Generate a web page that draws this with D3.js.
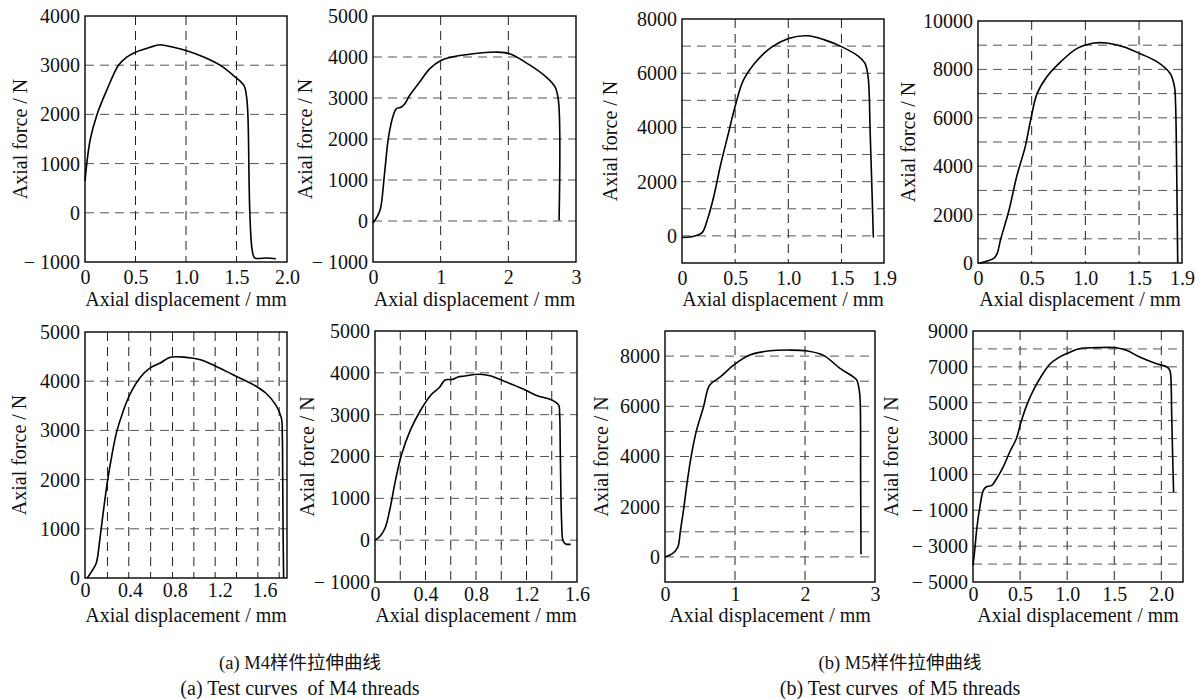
<!DOCTYPE html>
<html><head><meta charset="utf-8">
<script src="https://cdn.jsdelivr.net/npm/d3@7"></script>
<style>
body{margin:0;background:#fff}
svg{display:block}
text{font-family:"Liberation Serif","Times New Roman",serif;fill:#111}
</style>
</head><body>
<svg id="chart" width="1200" height="699"></svg>
<script>
// ---------- DATA ----------
// (a) M4 threads: axial displacement (mm), axial force (N)
const curveM4a = [[0,650],[0.05,1470],[0.116,1980],[0.215,2490],[0.33,2995],[0.41,3160],[0.5,3265],[0.646,3367],[0.745,3415],[0.795,3400],[1.0,3300],[1.175,3165],[1.34,2995],[1.47,2790],[1.573,2588],[1.6,2350],[1.613,1978],[1.632,0],[1.656,-766],[1.68,-915],[1.80,-920],[1.89,-935]];
const curveM4b = [[0,-50],[0.06,100],[0.11,300],[0.17,1150],[0.23,2050],[0.3,2580],[0.345,2740],[0.42,2780],[0.47,2860],[0.54,3060],[0.69,3390],[0.84,3715],[1.01,3920],[1.13,3985],[1.48,4080],[1.82,4120],[2.02,4080],[2.32,3800],[2.56,3510],[2.69,3270],[2.74,2940],[2.75,15]];
const curveM4c = [[0.02,0],[0.06,135],[0.1,300],[0.13,745],[0.16,1290],[0.2,1965],[0.24,2500],[0.28,2950],[0.34,3390],[0.4,3730],[0.49,4070],[0.58,4270],[0.67,4370],[0.76,4485],[0.9,4485],[1.02,4440],[1.17,4300],[1.32,4130],[1.5,3930],[1.61,3760],[1.7,3520],[1.75,3250],[1.758,2910],[1.762,1965],[1.765,950],[1.77,0]];
const curveM4d = [[0,0],[0.04,95],[0.08,290],[0.12,770],[0.16,1400],[0.21,2040],[0.28,2630],[0.36,3100],[0.44,3460],[0.51,3650],[0.555,3830],[0.61,3840],[0.657,3900],[0.7,3920],[0.83,3965],[0.91,3930],[1.04,3780],[1.17,3620],[1.28,3460],[1.40,3350],[1.455,3230],[1.462,3070],[1.468,2040],[1.478,450],[1.49,-20],[1.51,-90],[1.55,-100]];
// (b) M5 threads
const curveM5a = [[0,-60],[0.08,-40],[0.14,20],[0.19,120],[0.24,610],[0.3,1470],[0.36,2570],[0.43,3680],[0.5,4780],[0.58,5760],[0.71,6490],[0.85,6980],[1.01,7290],[1.18,7380],[1.34,7230],[1.5,6980],[1.66,6620],[1.72,6370],[1.75,5880],[1.77,3800],[1.80,-60]];
const curveM5b = [[0,0],[0.02,0],[0.08,70],[0.15,200],[0.18,410],[0.21,960],[0.29,2200],[0.36,3570],[0.44,4810],[0.49,5900],[0.55,7000],[0.64,7690],[0.77,8310],[0.92,8860],[1.08,9090],[1.2,9090],[1.36,8930],[1.51,8650],[1.67,8310],[1.79,7830],[1.83,7280],[1.84,6590],[1.85,3980],[1.86,0]];
const curveM5c = [[0,0],[0.095,107],[0.18,373],[0.22,1040],[0.27,1973],[0.32,3040],[0.38,4107],[0.45,5040],[0.55,5970],[0.637,6840],[0.79,7170],[0.98,7640],[1.21,8040],[1.5,8210],[1.79,8240],[2.02,8210],[2.26,8040],[2.5,7510],[2.69,7170],[2.74,7040],[2.775,6640],[2.788,6240],[2.795,3040],[2.8,107]];
const curveM5d = [[0,-4070],[0.02,-3140],[0.04,-2030],[0.07,-910],[0.11,110],[0.14,300],[0.2,390],[0.25,760],[0.32,1410],[0.39,2250],[0.46,2990],[0.51,3920],[0.57,4850],[0.64,5690],[0.73,6520],[0.82,7170],[0.9,7490],[0.99,7730],[1.13,8010],[1.31,8070],[1.52,8070],[1.63,7920],[1.77,7550],[1.95,7170],[2.06,6990],[2.09,6800],[2.1,6520],[2.11,4290],[2.12,2060],[2.13,20]];

// axis domains
const xDomains = [[0,2],[0,3],[0,1.9],[0,1.9],[0,1.8],[0,1.6],[0,3],[0,2.23]];
const yDomains = [[-1000,4000],[-1000,5000],[-1000,8000],[0,10000],[0,5000],[-1000,5000],[-1000,9000],[-5000,9000]];

// tick values and labels
const xTicks = [[0,0.5,1,1.5,2],[0,1,2,3],[0,0.5,1,1.5,1.9],[0,0.5,1,1.5,1.9],[0,0.4,0.8,1.2,1.6],[0,0.4,0.8,1.2,1.6],[0,1,2,3],[0,0.5,1,1.5,2]];
const xTickLabels = [["0","0.5","1.0","1.5","2.0"],["0","1","2","3"],["0","0.5","1.0","1.5","1.9"],["0","0.5","1.0","1.5","1.9"],["0","0.4","0.8","1.2","1.6"],["0","0.4","0.8","1.2","1.6"],["0","1","2","3"],["0","0.5","1.0","1.5","2.0"]];
const yTicks = [[-1000,0,1000,2000,3000,4000],[-1000,0,1000,2000,3000,4000,5000],[0,2000,4000,6000,8000],[0,2000,4000,6000,8000,10000],[0,1000,2000,3000,4000,5000],[-1000,0,1000,2000,3000,4000,5000],[0,2000,4000,6000,8000],[-5000,-3000,-1000,1000,3000,5000,7000,9000]];
const yTickLabels = [["\u2212 1000","0","1000","2000","3000","4000"],["\u2212 1000","0","1000","2000","3000","4000","5000"],["0","2000","4000","6000","8000"],["0","2000","4000","6000","8000","10000"],["0","1000","2000","3000","4000","5000"],["\u2212 1000","0","1000","2000","3000","4000","5000"],["0","2000","4000","6000","8000"],["\u2212 5000","\u2212 3000","\u2212 1000","1000","3000","5000","7000","9000"]];

// dashed grid lines (data units)
const gridX = [[0.5,1,1.5],[1,2],[0.5,1,1.5],[0.5,1,1.5],[0.2,0.39,0.585,0.78,0.97,1.16,1.35,1.54,1.73],[0.2,0.4,0.6,0.8,1.0,1.2,1.4],[1,2],[0.5,1,1.5,2]];
const gridY = [[0,1000,2000,3000],[0,1000,2000,3000,4000],[0,1000,2000,3000,4000,5000,6000,7000],[1000,2000,3000,4000,5000,6000,7000,8000,9000],[1000,2000,3000,4000],[0,1000,2000,3000,4000],[0,1000,2000,3000,4000,5000,6000,7000,8000],[-4000,-3000,-2000,-1000,0,1000,2000,3000,4000,5000,6000,7000,8000]];

const curves = [curveM4a, curveM4b, curveM5a, curveM5b, curveM4c, curveM4d, curveM5c, curveM5d];

const xTitle = "Axial displacement / mm";
const yTitle = "Axial force / N";
const captionsCN = [["(a) M4","样件拉伸曲线"],["(b) M5","样件拉伸曲线"]];
const captionsEN = ["(a) Test curves  of M4 threads","(b) Test curves  of M5 threads"];

// ---------- LAYOUT ----------
const frames = [
  {l:85,r:287,t:16,b:262,yl:20},
  {l:373,r:576,t:16,b:262,yl:305},
  {l:682,r:884,t:19,b:263,yl:610},
  {l:978,r:1182,t:21,b:263,yl:908},
  {l:85,r:287,t:332,b:578,yl:19},
  {l:375,r:577,t:331,b:582,yl:307},
  {l:665,r:875,t:331,b:582,yl:601},
  {l:973,r:1183,t:331,b:582,yl:891}
];
const rowTitleY = [306, 622];
const rowTickPad = [8, 5];

const svg = d3.select("#chart");
const FS = 20;

frames.forEach((f, i) => {
  const row = i < 4 ? 0 : 1;
  const x = d3.scaleLinear().domain(xDomains[i]).range([f.l, f.r]);
  const y = d3.scaleLinear().domain(yDomains[i]).range([f.b, f.t]);
  const g = svg.append("g");

  // grid
  g.selectAll(".gx").data(gridX[i]).join("line")
    .attr("x1", d => x(d)).attr("x2", d => x(d))
    .attr("y1", f.t).attr("y2", f.b)
    .attr("stroke", "#222").attr("stroke-width", 1).attr("stroke-dasharray", "9,6");
  g.selectAll(".gy").data(gridY[i]).join("line")
    .attr("y1", d => y(d)).attr("y2", d => y(d))
    .attr("x1", f.l).attr("x2", f.r)
    .attr("stroke", "#555").attr("stroke-width", 1).attr("stroke-dasharray", "9,6");

  // curve
  const line = d3.line().x(d => x(d[0])).y(d => y(d[1])).curve(d3.curveCatmullRom.alpha(0.5));
  g.append("path").datum(curves[i]).attr("d", line)
    .attr("fill", "none").attr("stroke", "#000").attr("stroke-width", 1.6).attr("stroke-linejoin", "round");

  // frame
  g.append("rect").attr("x", f.l).attr("y", f.t).attr("width", f.r - f.l).attr("height", f.b - f.t)
    .attr("fill", "none").attr("stroke", "#000").attr("stroke-width", 1.4);

  // axes
  const ax = g.append("g").attr("transform", `translate(0,${f.b})`)
    .call(d3.axisBottom(x).tickValues(xTicks[i]).tickFormat((d, k) => xTickLabels[i][k]).tickSize(0).tickPadding(rowTickPad[row]));
  const ay = g.append("g").attr("transform", `translate(${f.l},0)`)
    .call(d3.axisLeft(y).tickValues(yTicks[i]).tickFormat((d, k) => yTickLabels[i][k]).tickSize(0).tickPadding(5));
  [ax, ay].forEach(a => {
    a.select(".domain").remove();
    a.attr("font-family", null).attr("font-size", null);
    a.selectAll("text").attr("font-size", FS).attr("fill", "#111")
      .style("font-family", '"Liberation Serif","Times New Roman",serif');
  });

  // titles
  g.append("text").attr("x", (f.l + f.r) / 2).attr("y", rowTitleY[row])
    .attr("text-anchor", "middle").attr("font-size", FS).text(xTitle);
  g.append("text").attr("transform", `translate(${f.yl},${(f.t + f.b) / 2}) rotate(-90)`)
    .attr("text-anchor", "middle").attr("dominant-baseline", "central").attr("font-size", FS).text(yTitle);
});

// captions
const capX = [300, 900];
captionsCN.forEach((c, k) => {
  const t = svg.append("text").attr("x", capX[k]).attr("y", 669).attr("text-anchor", "middle").attr("font-size", 18.5);
  t.append("tspan").text(c[0]);
  t.append("tspan").style("font-family", '"Noto Sans CJK SC",sans-serif').text(c[1]);
});
captionsEN.forEach((c, k) => {
  svg.append("text").attr("x", capX[k]).attr("y", 695).attr("text-anchor", "middle").attr("font-size", 20)
    .style("white-space", "pre").text(c);
});
</script>
</body></html>
